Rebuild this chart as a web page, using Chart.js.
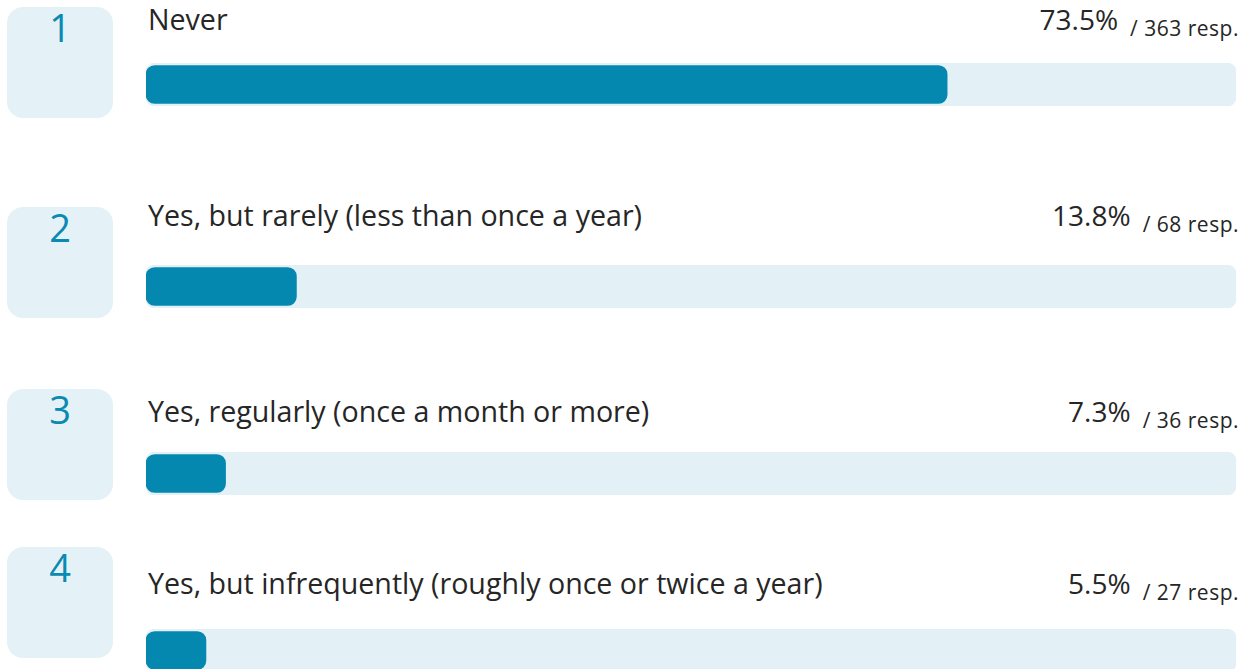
<!DOCTYPE html>
<html>
<head>
<meta charset="utf-8">
<script src="https://cdn.jsdelivr.net/npm/chart.js@4/dist/chart.umd.min.js"></script>
<style>
  body { margin: 0; width: 1250px; height: 669px; overflow: hidden; background: #fff;
         font-family: "Open Sans", "Noto Sans", sans-serif; color: #262626; position: relative; }
  .box { position: absolute; left: 7px; width: 106px; height: 110px; padding-top: 1px; background: #e4f2f7;
         border-radius: 16px; text-align: center; color: #0a89b3; font-size: 38px; line-height: 38px; }
  .label { position: absolute; left: 148px; font-size: 28.6px; line-height: 28px; white-space: nowrap; }
  .pct { position: absolute; right: 11px; font-size: 28px; line-height: 28px; white-space: nowrap; }
  .pct .resp { font-size: 21px; letter-spacing: 0.5px; position: relative; top: 6px; margin-left: 12px; }
  canvas.bar { position: absolute; left: 146px; }
</style>
</head>
<body>
<script>
const categories = [
  "Never",
  "Yes, but rarely (less than once a year)",
  "Yes, regularly (once a month or more)",
  "Yes, but infrequently (roughly once or twice a year)"
];
const percents = [73.5, 13.8, 7.3, 5.5];
const responses = [363, 68, 36, 27];

// layout of each row (px)
const boxTops = [7, 207, 389, 547];
const labelTops = [5, 201, 397, 569];
const trackTops = [63, 265, 452, 629];

categories.forEach((cat, i) => {
  const box = document.createElement("div");
  box.className = "box";
  box.style.top = boxTops[i] + "px";
  box.textContent = i + 1;
  document.body.appendChild(box);

  const label = document.createElement("div");
  label.className = "label";
  label.style.top = labelTops[i] + "px";
  label.textContent = cat;
  document.body.appendChild(label);

  const pct = document.createElement("div");
  pct.className = "pct";
  pct.style.top = labelTops[i] + "px";
  pct.innerHTML = `${percents[i]}%<span class="resp">/ ${responses[i]} resp.</span>`;
  document.body.appendChild(pct);

  const canvas = document.createElement("canvas");
  canvas.className = "bar";
  canvas.width = 1090;
  canvas.height = 43;
  canvas.style.top = trackTops[i] + "px";
  document.body.appendChild(canvas);

  new Chart(canvas, {
    type: "bar",
    data: {
      labels: [cat],
      datasets: [
        {
          data: [percents[i]],
          backgroundColor: "#0588b0",
          borderRadius: 9,
          borderSkipped: false,
          barThickness: 38,
          order: 0,
        },
        {
          data: [100],
          backgroundColor: "#e3f1f6",
          borderRadius: 9,
          borderSkipped: false,
          barThickness: 43,
          order: 1,
        },
      ],
    },
    options: {
      indexAxis: "y",
      responsive: false,
      animation: false,
      layout: { padding: 0 },
      datasets: { bar: { grouped: false } },
      scales: {
        x: { display: false, min: 0, max: 100 },
        y: { display: false },
      },
      plugins: {
        legend: { display: false },
        tooltip: { enabled: false },
      },
    },
  });
});
</script>
</body>
</html>
